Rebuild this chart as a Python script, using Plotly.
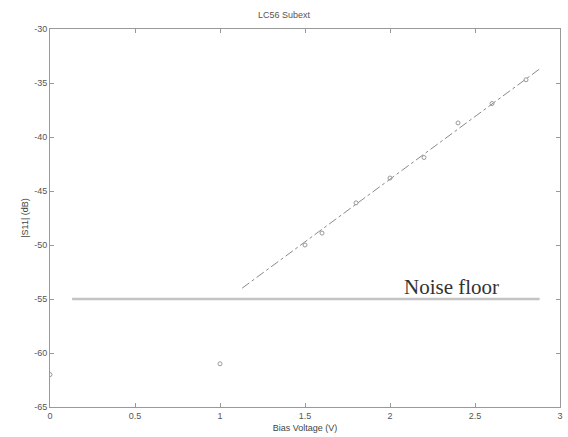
import plotly.graph_objects as go

# measured points
bias_v = [0.0, 1.0, 1.5, 1.6, 1.8, 2.0, 2.2, 2.4, 2.6, 2.8]
s11_db = [-62.0, -61.0, -50.0, -48.9, -46.1, -43.8, -41.9, -38.7, -36.9, -34.7]

# linear fit line
fit_v = [1.13, 2.88]
fit_db = [-54.0, -33.7]

# noise floor
noise_v = [0.13, 2.88]
noise_db = [-55.0, -55.0]

x_ticks = [0, 0.5, 1, 1.5, 2, 2.5, 3]
y_ticks = [-30, -35, -40, -45, -50, -55, -60, -65]

fig = go.Figure()
fig.add_trace(go.Scatter(x=noise_v, y=noise_db, mode="lines",
                         line=dict(color="#c4c4c4", width=2.5), showlegend=False))
fig.add_trace(go.Scatter(x=fit_v, y=fit_db, mode="lines",
                         line=dict(color="#8a8a8a", width=1, dash="dashdot"), showlegend=False))
fig.add_trace(go.Scatter(x=bias_v, y=s11_db, mode="markers",
                         marker=dict(symbol="circle-open", size=4, color="#9a9a9a", line=dict(width=1)),
                         showlegend=False))

fig.add_annotation(x=2.36, y=-55, yshift=12, text="Noise floor", showarrow=False,
                   font=dict(family="Liberation Serif, Times New Roman, serif", size=21, color="#333"))

axis_common = dict(showgrid=False, zeroline=False, showline=True, linecolor="#999",
                   linewidth=1, mirror="ticks", ticks="inside", ticklen=4, tickcolor="#999",
                   tickfont=dict(family="Liberation Sans, Arial, sans-serif", size=9, color="#555"))

fig.update_layout(
    width=568, height=437,
    margin=dict(l=50, r=5, t=29, b=30),
    paper_bgcolor="white", plot_bgcolor="white",
    title=dict(text="LC56 Subext", x=0.5, xanchor="center", y=0.965, yanchor="middle",
               font=dict(family="Liberation Sans, Arial, sans-serif", size=9, color="#555")),
    xaxis=dict(range=[0, 3], tickvals=x_ticks, ticktext=[str(t) for t in x_ticks],
               title=dict(text="Bias Voltage (V)", standoff=4,
                          font=dict(family="Liberation Sans, Arial, sans-serif", size=9, color="#444")),
               **axis_common),
    yaxis=dict(range=[-65, -30], tickvals=y_ticks, ticktext=[str(t) for t in y_ticks],
               title=dict(text="|S11| (dB)", standoff=4,
                          font=dict(family="Liberation Sans, Arial, sans-serif", size=9, color="#444")),
               **axis_common),
)

fig.write_html("out.html")
